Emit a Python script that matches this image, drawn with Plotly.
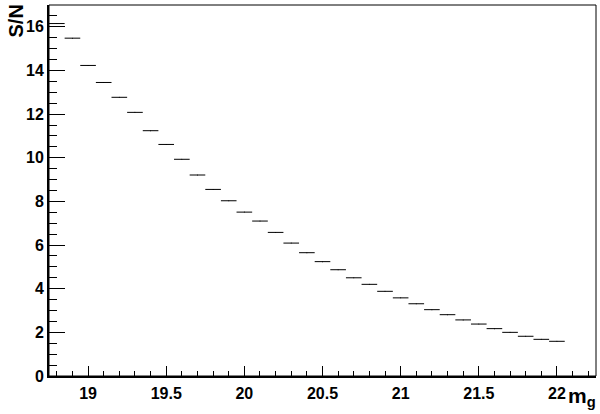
import plotly.graph_objects as go

# bin centres (m_g) and S/N per bin
mag_bins = [18.8, 18.9, 19.0, 19.1, 19.2, 19.3, 19.4, 19.5, 19.6, 19.7, 19.8,
            19.9, 20.0, 20.1, 20.2, 20.3, 20.4, 20.5, 20.6, 20.7, 20.8, 20.9,
            21.0, 21.1, 21.2, 21.3, 21.4, 21.5, 21.6, 21.7, 21.8, 21.9, 22.0]
snr = [16.15, 15.48, 14.23, 13.45, 12.77, 12.08, 11.24, 10.61, 9.93, 9.21, 8.55,
       8.03, 7.51, 7.10, 6.58, 6.09, 5.65, 5.24, 4.87, 4.50, 4.20, 3.88,
       3.58, 3.31, 3.04, 2.81, 2.57, 2.38, 2.17, 2.00, 1.82, 1.68, 1.59]
bin_width = 0.1

FONT = "Liberation Sans, Arial, sans-serif"

fig = go.Figure()
fig.add_trace(
    go.Scatter(
        x=mag_bins,
        y=snr,
        mode="markers",
        marker=dict(size=1, color="black"),
        error_x=dict(type="constant", value=bin_width / 2, width=0, thickness=1, color="black"),
        showlegend=False,
        hoverinfo="x+y",
    )
)

axis_common = dict(
    showgrid=False,
    zeroline=False,
    showline=True,
    linecolor="black",
    linewidth=2,
    ticks="inside",
    tickcolor="black",
    tickwidth=1,
    automargin=False,
    tickfont=dict(family=FONT, size=16, color="black", weight="bold"),
)

fig.update_xaxes(
    range=[18.75, 22.25],
    tick0=19,
    dtick=0.5,
    ticklen=10,
    ticklabelstandoff=2,
    minor=dict(dtick=0.1, ticklen=5, ticks="inside", tickcolor="black", tickwidth=1),
    **axis_common,
)
fig.update_yaxes(
    range=[0, 17],
    tick0=0,
    dtick=2,
    ticklen=16,
    ticklabelstandoff=0,
    minor=dict(dtick=0.5, ticklen=8, ticks="inside", tickcolor="black", tickwidth=1),
    **axis_common,
)

fig.update_layout(
    width=600,
    height=414,
    margin=dict(l=49, r=4, t=5, b=38, autoexpand=False),
    paper_bgcolor="white",
    plot_bgcolor="white",
    shapes=[
        dict(type="rect", xref="paper", yref="paper", x0=0, y0=0, x1=1, y1=1,
             line=dict(color="black", width=1)),
    ],
    annotations=[
        dict(text="S/N", xref="paper", yref="paper", x=-46 / 547, y=1.0 + 2 / 371,
             xanchor="left", yanchor="top", textangle=-90, showarrow=False,
             font=dict(family=FONT, size=20, color="black", weight="bold")),
        dict(text="m<sub>g</sub>", xref="paper", yref="paper", x=1.0 + 2 / 547, y=-36 / 371,
             xanchor="right", yanchor="bottom", showarrow=False,
             font=dict(family=FONT, size=21, color="black", weight="bold")),
    ],
)

# drop the browser's default 8px body margin so the 600x414 figure fills the window
fig.write_html(
    "out.html",
    config={"displayModeBar": False},
    post_script="document.body.style.margin='0';",
)
